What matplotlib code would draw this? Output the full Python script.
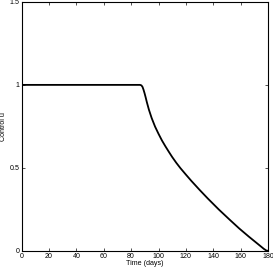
import matplotlib
matplotlib.use("Agg")
import matplotlib.pyplot as plt

# control profile
days = [0, 86.5, 87.5, 88.3, 89.0, 89.8, 90.6, 91.5, 93.0, 95.0, 97.5, 100.0,
        102.5, 105.0, 107.5, 110.0, 113.0, 116.0, 120.0, 124.0, 130.0, 136.0,
        144.0, 152.0, 159.0, 166.0, 173.0, 177.0, 179.0, 180.0]
u = [1.0, 1.0, 0.997, 0.988, 0.972, 0.95, 0.925, 0.895, 0.85, 0.80, 0.748, 0.705,
     0.665, 0.630, 0.597, 0.565, 0.530, 0.498, 0.459, 0.421, 0.367, 0.315,
     0.249, 0.187, 0.134, 0.085, 0.038, 0.011, 0.0, 0.0]

xticks = [0, 20, 40, 60, 80, 100, 120, 140, 160, 180]
yticks = [0, 0.5, 1, 1.5]
ylabels = ["0", "0.5", "1", "1.5"]

plt.rcParams['font.family'] = ['Liberation Sans', 'DejaVu Sans']

fig = plt.figure(figsize=(2.73, 2.68), dpi=100)
ax = fig.add_axes([0.0795, 0.0646, 0.902, 0.928])
ax.plot(days, u, color='black', linewidth=1.3)
ax.set_xlim(0, 180)
ax.set_ylim(0, 1.5)
ax.set_xticks(xticks)
ax.set_xticklabels([str(t) for t in xticks])
ax.set_yticks(yticks)
ax.set_yticklabels(ylabels)
ax.tick_params(direction='in', top=True, right=True, length=2.5, width=0.6,
               labelsize=5.1, pad=1.5, colors='#333333', labelcolor='black')
for s in ax.spines.values():
    s.set_linewidth(0.8)
ax.set_xlabel("Time (days)", fontsize=5.1, labelpad=0.5)
ax.set_ylabel("Control u", fontsize=5.1, labelpad=2)

fig.savefig("out.png", dpi=100)
